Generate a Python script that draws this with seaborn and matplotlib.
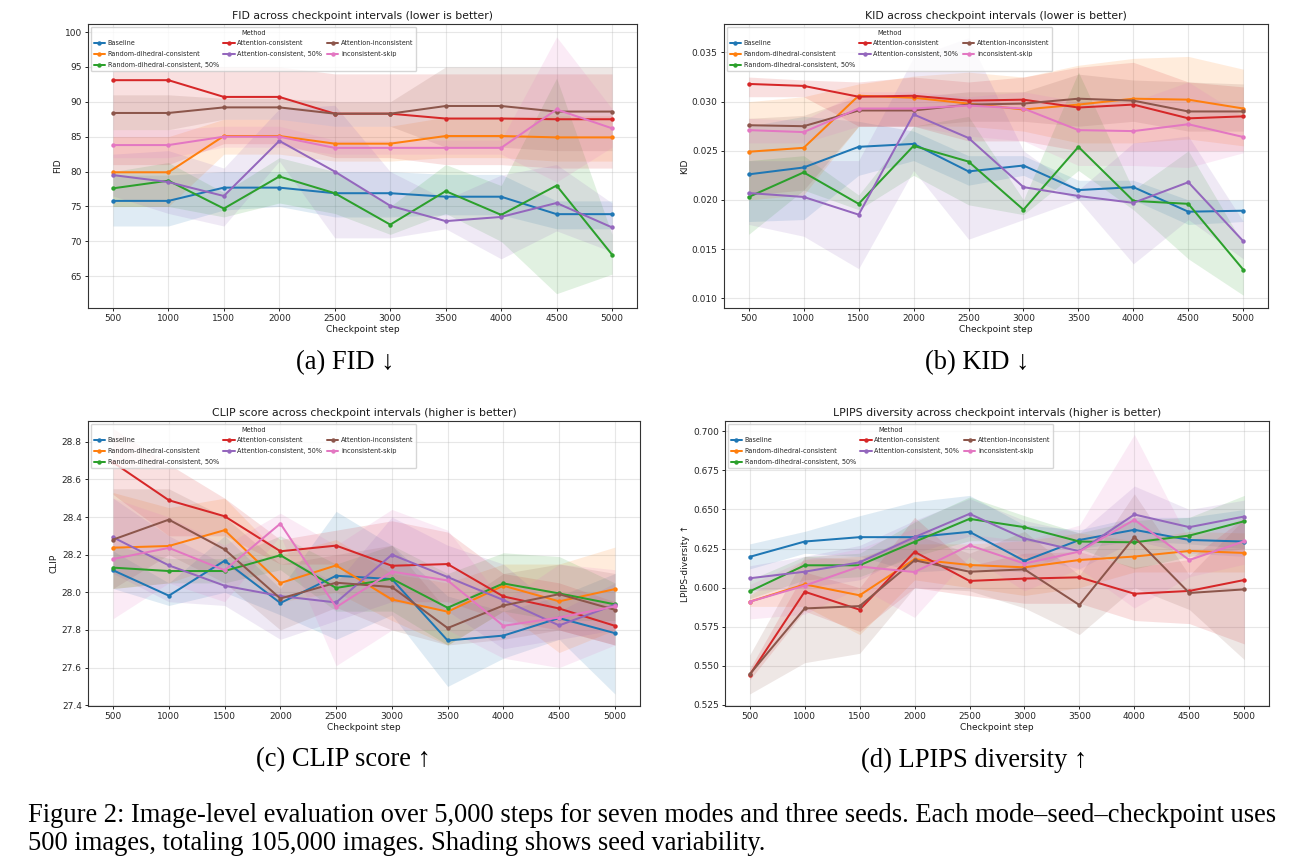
import matplotlib
matplotlib.use("Agg")
import matplotlib.pyplot as plt
import numpy as np
import pandas as pd
import seaborn as sns

steps = [500, 1000, 1500, 2000, 2500, 3000, 3500, 4000, 4500, 5000]
methods = ["Baseline", "Random-dihedral-consistent", "Random-dihedral-consistent, 50%",
           "Attention-consistent", "Attention-consistent, 50%", "Attention-inconsistent",
           "inconsistent-skip"]

# ---------------- FID ----------------
fid_mean = {
    "Baseline": [75.8, 75.8, 77.7, 77.7, 76.9, 76.9, 76.4, 76.4, 73.9, 73.9],
    "Random-dihedral-consistent": [79.9, 79.9, 85.1, 85.1, 84.0, 84.0, 85.1, 85.1, 84.9, 84.9],
    "Random-dihedral-consistent, 50%": [77.6, 78.7, 74.7, 79.3, 76.9, 72.4, 77.2, 73.8, 78.0, 68.1],
    "Attention-consistent": [93.1, 93.1, 90.7, 90.7, 88.3, 88.3, 87.6, 87.6, 87.5, 87.5],
    "Attention-consistent, 50%": [79.5, 78.5, 76.5, 84.4, 80.0, 75.1, 72.9, 73.5, 75.5, 72.0],
    "Attention-inconsistent": [88.4, 88.4, 89.2, 89.2, 88.3, 88.3, 89.4, 89.4, 88.6, 88.6],
    "inconsistent-skip": [83.8, 83.8, 85.0, 85.0, 83.4, 83.4, 83.4, 83.4, 88.9, 86.2],
}
fid_lo = {
    "Baseline": [72.2, 72.2, 74.5, 75.0, 73.5, 73.5, 73.8, 73.8, 71.8, 71.8],
    "Random-dihedral-consistent": [75.0, 75.0, 82.5, 82.5, 81.5, 81.5, 82.0, 82.0, 81.5, 81.5],
    "Random-dihedral-consistent, 50%": [75.0, 75.0, 73.5, 75.5, 74.0, 71.0, 74.0, 70.0, 62.5, 65.3],
    "Attention-consistent": [81.0, 81.0, 84.0, 84.0, 82.0, 82.0, 81.0, 81.0, 80.5, 80.5],
    "Attention-consistent, 50%": [76.5, 74.0, 72.2, 81.5, 70.5, 70.5, 71.8, 67.5, 71.5, 68.5],
    "Attention-inconsistent": [86.0, 86.0, 87.5, 87.5, 86.5, 86.5, 83.5, 83.5, 83.0, 83.0],
    "inconsistent-skip": [82.0, 82.0, 83.5, 83.5, 82.5, 82.5, 82.5, 82.5, 78.5, 83.5],
}
fid_hi = {
    "Baseline": [79.5, 79.5, 80.0, 80.0, 80.0, 80.0, 79.6, 79.6, 75.8, 75.8],
    "Random-dihedral-consistent": [85.0, 85.0, 87.5, 87.5, 86.5, 86.5, 87.8, 87.8, 88.0, 88.0],
    "Random-dihedral-consistent, 50%": [80.0, 81.3, 77.0, 82.0, 80.0, 75.0, 81.0, 78.0, 93.4, 71.0],
    "Attention-consistent": [95.0, 95.0, 95.0, 95.0, 94.0, 94.0, 94.0, 94.0, 94.0, 94.0],
    "Attention-consistent, 50%": [82.5, 83.0, 80.5, 89.0, 89.5, 80.0, 76.0, 79.5, 81.0, 75.5],
    "Attention-inconsistent": [91.0, 91.0, 90.5, 90.5, 90.0, 90.0, 95.0, 95.0, 95.0, 95.0],
    "inconsistent-skip": [86.0, 86.0, 86.5, 86.5, 84.5, 84.5, 84.5, 84.5, 99.3, 89.0],
}

# ---------------- KID ----------------
kid_mean = {
    "Baseline": [0.0226, 0.0233, 0.0254, 0.0257, 0.0229, 0.0235, 0.0210, 0.0213, 0.0188, 0.0189],
    "Random-dihedral-consistent": [0.0249, 0.0253, 0.0306, 0.0304, 0.0298, 0.0292, 0.0297, 0.0303, 0.0302, 0.0293],
    "Random-dihedral-consistent, 50%": [0.0203, 0.0228, 0.0196, 0.0255, 0.0239, 0.0190, 0.0254, 0.0199, 0.0196, 0.0129],
    "Attention-consistent": [0.0318, 0.0316, 0.0305, 0.0306, 0.0301, 0.0302, 0.0294, 0.0297, 0.0283, 0.0285],
    "Attention-consistent, 50%": [0.0207, 0.0203, 0.0185, 0.0287, 0.0263, 0.0213, 0.0204, 0.0197, 0.0218, 0.0158],
    "Attention-inconsistent": [0.0276, 0.0275, 0.0291, 0.0291, 0.0297, 0.0298, 0.0303, 0.0301, 0.0290, 0.0290],
    "inconsistent-skip": [0.0271, 0.0269, 0.0293, 0.0293, 0.0296, 0.0293, 0.0271, 0.0270, 0.0277, 0.0264],
}
kid_lo = {
    "Baseline": [0.0178, 0.0180, 0.0225, 0.0240, 0.0215, 0.0225, 0.0200, 0.0200, 0.0175, 0.0178],
    "Random-dihedral-consistent": [0.0200, 0.0205, 0.0275, 0.0275, 0.0275, 0.0270, 0.0258, 0.0258, 0.0262, 0.0255],
    "Random-dihedral-consistent, 50%": [0.0165, 0.0210, 0.0190, 0.0225, 0.0195, 0.0185, 0.0230, 0.0190, 0.0140, 0.0103],
    "Attention-consistent": [0.0305, 0.0305, 0.0275, 0.0275, 0.0260, 0.0260, 0.0250, 0.0250, 0.0250, 0.0250],
    "Attention-consistent, 50%": [0.0175, 0.0163, 0.0130, 0.0230, 0.0160, 0.0180, 0.0200, 0.0135, 0.0180, 0.0140],
    "Attention-inconsistent": [0.0205, 0.0210, 0.0275, 0.0275, 0.0280, 0.0280, 0.0275, 0.0280, 0.0270, 0.0270],
    "inconsistent-skip": [0.0258, 0.0258, 0.0275, 0.0275, 0.0265, 0.0260, 0.0235, 0.0235, 0.0233, 0.0248],
}
kid_hi = {
    "Baseline": [0.0275, 0.0285, 0.0280, 0.0270, 0.0245, 0.0245, 0.0220, 0.0220, 0.0200, 0.0200],
    "Random-dihedral-consistent": [0.0300, 0.0305, 0.0318, 0.0326, 0.0330, 0.0325, 0.0337, 0.0344, 0.0346, 0.0333],
    "Random-dihedral-consistent, 50%": [0.0240, 0.0245, 0.0205, 0.0275, 0.0285, 0.0200, 0.0330, 0.0210, 0.0250, 0.0155],
    "Attention-consistent": [0.0325, 0.0322, 0.0320, 0.0325, 0.0320, 0.0325, 0.0335, 0.0340, 0.0320, 0.0315],
    "Attention-consistent, 50%": [0.0240, 0.0240, 0.0240, 0.0345, 0.0365, 0.0250, 0.0210, 0.0258, 0.0265, 0.0178],
    "Attention-inconsistent": [0.0283, 0.0286, 0.0305, 0.0305, 0.0310, 0.0310, 0.0328, 0.0322, 0.0320, 0.0318],
    "inconsistent-skip": [0.0283, 0.0281, 0.0310, 0.0310, 0.0305, 0.0310, 0.0300, 0.0300, 0.0320, 0.0285],
}

# ---------------- CLIP ----------------
clip_mean = {
    "Baseline": [28.117, 27.982, 28.168, 27.943, 28.088, 28.070, 27.744, 27.770, 27.863, 27.783],
    "Random-dihedral-consistent": [28.237, 28.246, 28.330, 28.049, 28.143, 27.962, 27.897, 28.035, 27.952, 28.017],
    "Random-dihedral-consistent, 50%": [28.131, 28.113, 28.113, 28.197, 28.023, 28.072, 27.918, 28.047, 27.994, 27.936],
    "Attention-consistent": [28.690, 28.489, 28.404, 28.218, 28.248, 28.141, 28.150, 27.978, 27.914, 27.822],
    "Attention-consistent, 50%": [28.292, 28.143, 28.035, 27.980, 27.946, 28.200, 28.081, 27.959, 27.824, 27.934],
    "Attention-inconsistent": [28.280, 28.386, 28.228, 27.967, 28.051, 28.028, 27.810, 27.930, 27.990, 27.907],
    "inconsistent-skip": [28.177, 28.236, 28.117, 28.365, 27.921, 28.110, 28.063, 27.822, 27.866, 27.925],
}
clip_lo = {
    "Baseline": [28.02, 27.93, 28.00, 27.88, 27.75, 27.88, 27.50, 27.65, 27.75, 27.46],
    "Random-dihedral-consistent": [28.02, 28.05, 28.15, 27.95, 28.00, 27.85, 27.72, 27.90, 27.68, 27.80],
    "Random-dihedral-consistent, 50%": [28.02, 28.05, 28.05, 28.12, 27.90, 27.90, 27.72, 27.90, 27.85, 27.85],
    "Attention-consistent": [28.52, 28.30, 28.30, 28.15, 28.15, 27.95, 27.95, 27.85, 27.80, 27.72],
    "Attention-consistent, 50%": [28.10, 27.95, 27.93, 27.75, 27.85, 27.95, 27.90, 27.70, 27.75, 27.80],
    "Attention-inconsistent": [28.02, 28.20, 28.05, 27.80, 27.92, 27.80, 27.72, 27.75, 27.80, 27.72],
    "inconsistent-skip": [27.86, 28.05, 27.95, 28.30, 27.61, 27.80, 27.80, 27.65, 27.60, 27.72],
}
clip_hi = {
    "Baseline": [28.22, 28.05, 28.30, 28.02, 28.43, 28.25, 27.98, 27.90, 27.98, 28.10],
    "Random-dihedral-consistent": [28.53, 28.45, 28.50, 28.20, 28.28, 28.10, 28.05, 28.15, 28.15, 28.24],
    "Random-dihedral-consistent, 50%": [28.25, 28.18, 28.18, 28.30, 28.15, 28.25, 28.10, 28.21, 28.19, 28.05],
    "Attention-consistent": [28.87, 28.68, 28.50, 28.28, 28.33, 28.38, 28.32, 28.10, 28.05, 27.95],
    "Attention-consistent, 50%": [28.50, 28.30, 28.15, 28.20, 28.05, 28.40, 28.25, 28.15, 27.90, 28.05],
    "Attention-inconsistent": [28.55, 28.55, 28.40, 28.15, 28.20, 28.25, 27.90, 28.10, 28.15, 28.10],
    "inconsistent-skip": [28.50, 28.40, 28.25, 28.42, 28.25, 28.44, 28.33, 27.95, 28.15, 28.12],
}

# ---------------- LPIPS ----------------
lpips_mean = {
    "Baseline": [0.6197, 0.6295, 0.6323, 0.6323, 0.6357, 0.6171, 0.6305, 0.6370, 0.6305, 0.6295],
    "Random-dihedral-consistent": [0.5910, 0.6021, 0.5951, 0.6182, 0.6145, 0.6130, 0.6177, 0.6199, 0.6235, 0.6222],
    "Random-dihedral-consistent, 50%": [0.5976, 0.6143, 0.6143, 0.6293, 0.6440, 0.6387, 0.6295, 0.6290, 0.6333, 0.6425],
    "Attention-consistent": [0.5442, 0.5974, 0.5859, 0.6229, 0.6043, 0.6058, 0.6066, 0.5961, 0.5979, 0.6049],
    "Attention-consistent, 50%": [0.6060, 0.6102, 0.6162, 0.6323, 0.6472, 0.6314, 0.6233, 0.6468, 0.6387, 0.6455],
    "Attention-inconsistent": [0.5446, 0.5867, 0.5882, 0.6175, 0.6102, 0.6117, 0.5889, 0.6323, 0.5966, 0.5989],
    "inconsistent-skip": [0.5910, 0.6013, 0.6135, 0.6100, 0.6271, 0.6154, 0.6231, 0.6434, 0.6177, 0.6297],
}
lpips_lo = {
    "Baseline": [0.612, 0.622, 0.620, 0.610, 0.612, 0.610, 0.625, 0.630, 0.628, 0.625],
    "Random-dihedral-consistent": [0.588, 0.588, 0.570, 0.605, 0.600, 0.595, 0.600, 0.610, 0.610, 0.610],
    "Random-dihedral-consistent, 50%": [0.593, 0.605, 0.607, 0.620, 0.630, 0.630, 0.625, 0.612, 0.620, 0.625],
    "Attention-consistent": [0.541, 0.585, 0.572, 0.600, 0.595, 0.590, 0.590, 0.579, 0.577, 0.564],
    "Attention-consistent, 50%": [0.598, 0.600, 0.605, 0.622, 0.633, 0.620, 0.612, 0.630, 0.622, 0.620],
    "Attention-inconsistent": [0.532, 0.552, 0.558, 0.600, 0.598, 0.587, 0.570, 0.600, 0.586, 0.554],
    "inconsistent-skip": [0.580, 0.583, 0.600, 0.581, 0.620, 0.598, 0.612, 0.587, 0.607, 0.615],
}
lpips_hi = {
    "Baseline": [0.628, 0.636, 0.646, 0.655, 0.659, 0.640, 0.637, 0.645, 0.645, 0.650],
    "Random-dihedral-consistent": [0.595, 0.618, 0.620, 0.628, 0.628, 0.630, 0.635, 0.630, 0.636, 0.635],
    "Random-dihedral-consistent, 50%": [0.605, 0.620, 0.622, 0.642, 0.658, 0.646, 0.635, 0.643, 0.645, 0.659],
    "Attention-consistent": [0.548, 0.610, 0.600, 0.645, 0.614, 0.622, 0.623, 0.613, 0.618, 0.645],
    "Attention-consistent, 50%": [0.614, 0.620, 0.627, 0.643, 0.657, 0.643, 0.635, 0.665, 0.650, 0.656],
    "Attention-inconsistent": [0.557, 0.620, 0.618, 0.634, 0.622, 0.636, 0.608, 0.660, 0.608, 0.644],
    "inconsistent-skip": [0.602, 0.618, 0.625, 0.638, 0.634, 0.630, 0.640, 0.698, 0.630, 0.645],
}

titles = ["FID across checkpoint intervals (lower is better)",
          "KID across checkpoint intervals (lower is better)",
          "CLIP score across checkpoint intervals (higher is better)",
          "LPIPS diversity across checkpoint intervals (higher is better)"]
ylabels = ["FID", "KID", "CLIP", "LPIPS-diversity \u2191"]
subcaptions = ["(a) FID \u2193", "(b) KID \u2193", "(c) CLIP score \u2191", "(d) LPIPS diversity \u2191"]
caption_lines = [
    "Figure 2: Image-level evaluation over 5,000 steps for seven modes and three seeds. Each mode\u2013seed\u2013checkpoint uses",
    "500 images, totaling 105,000 images. Shading shows seed variability.",
]
fid_ticks = [65, 70, 75, 80, 85, 90, 95, 100]
kid_ticks = [0.010, 0.015, 0.020, 0.025, 0.030, 0.035]
clip_ticks = [27.4, 27.6, 27.8, 28.0, 28.2, 28.4, 28.6, 28.8]
lpips_ticks = [0.525, 0.550, 0.575, 0.600, 0.625, 0.650, 0.675, 0.700]

sns.set_theme(style="ticks")
plt.rcParams["font.family"] = ["DejaVu Sans"]
plt.rcParams["axes.edgecolor"] = "0.2"
plt.rcParams["axes.linewidth"] = 0.8

W, H = 1311, 867
fig = plt.figure(figsize=(W / 100, H / 100), dpi=100)
fig.patch.set_facecolor("white")

def px_axes(l, r, t, b):
    return fig.add_axes([l / W, 1 - b / H, (r - l) / W, (b - t) / H])

axes_px = [(88, 637, 24, 308), (724, 1268, 24, 308), (88, 640, 421, 706), (725, 1269, 421, 706)]
panels = [
    (fid_mean, fid_lo, fid_hi, fid_ticks, (60.45, 101.15), "{:.0f}"),
    (kid_mean, kid_lo, kid_hi, kid_ticks, (0.0090, 0.0379), "{:.3f}"),
    (clip_mean, clip_lo, clip_hi, clip_ticks, (27.396, 28.91), "{:.1f}"),
    (lpips_mean, lpips_lo, lpips_hi, lpips_ticks, (0.5243, 0.7066), "{:.3f}"),
]
palette = sns.color_palette("tab10", len(methods))

for i, (mean, lo, hi, yt, ylim, fmt) in enumerate(panels):
    ax = px_axes(*axes_px[i])
    ax.set_axisbelow(True)
    ax.grid(True, color="#b0b0b0", alpha=0.3, linewidth=0.8)
    for m, c in zip(methods, palette):
        df = pd.DataFrame({"step": steps, "val": mean[m]})
        ax.fill_between(steps, lo[m], hi[m], color=c, alpha=0.14, linewidth=0)
        sns.lineplot(data=df, x="step", y="val", ax=ax, color=c, marker="o",
                     markersize=3.2, markeredgecolor=c, markeredgewidth=0,
                     linewidth=1.45, label=m)
    ax.set_xlim(275, 5225)
    ax.set_ylim(*ylim)
    ax.set_xticks(steps)
    ax.set_xticklabels([str(s) for s in steps])
    ax.set_yticks(yt)
    ax.set_yticklabels([fmt.format(v) for v in yt])
    ax.tick_params(labelsize=6.5, length=2.5, width=0.7, pad=2, colors="0.15")
    ax.set_title(titles[i], fontsize=7.8, pad=3.5, color="0.1")
    ax.set_xlabel("Checkpoint step", fontsize=6.5, labelpad=1.5, color="0.1")
    ax.set_ylabel(ylabels[i], fontsize=6.5, labelpad=2, color="0.1")
    for s in ax.spines.values():
        s.set_visible(True)
    h, l = ax.get_legend_handles_labels()
    ax.legend(h, l, title="Method", ncol=3, loc="upper left", fontsize=4.7,
              title_fontsize=4.7, frameon=True, framealpha=0.8, edgecolor="0.8",
              borderpad=0.45, labelspacing=0.75, handlelength=1.7,
              handletextpad=0.45, columnspacing=0.7, borderaxespad=0.4)

serif = ["Liberation Serif", "DejaVu Serif"]
# caption: fit first line to the width of the text block
cap1 = fig.text(28 / W, 1 - 815 / H, caption_lines[0], family=serif, fontsize=16,
                ha="left", va="center", color="black")
fig.canvas.draw()
r = fig.canvas.get_renderer()
w = cap1.get_window_extent(r).width
fs = 16 * 1250 / w
cap1.set_fontsize(fs)
fig.text(28 / W, 1 - 843 / H, caption_lines[1], family=serif, fontsize=fs,
         ha="left", va="center", color="black")

sub_pos = [(345, 363), (977, 363), (343, 760), (974, 760)]
for (x, y), t in zip(sub_pos, subcaptions):
    fig.text(x / W, 1 - y / H, t, family=serif, fontsize=fs, ha="center", va="center",
             color="black")

fig.savefig("out.png", dpi=100, facecolor="white")
